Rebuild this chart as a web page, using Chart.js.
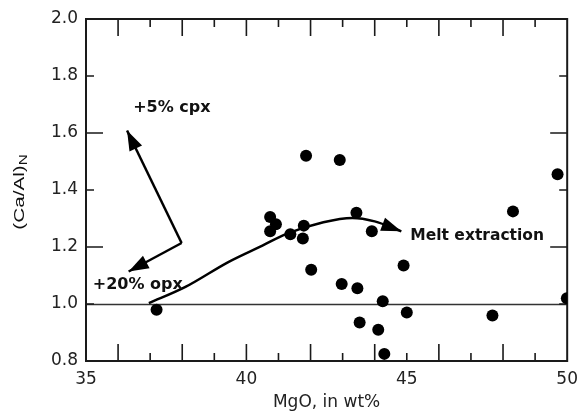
<!DOCTYPE html>
<html>
<head>
<meta charset="utf-8">
<script src="https://cdn.jsdelivr.net/npm/chart.js@4/dist/chart.umd.min.js"></script>
<style>
  html, body { margin: 0; padding: 0; background: #fff; }
  #wrap { width: 586px; height: 413px; }
</style>
</head>
<body>
<div id="wrap"><canvas id="mgoChart"></canvas></div>
<script>
// bulk-rock samples: MgO (wt%) vs normalised Ca/Al
var mgo  = [37.20, 40.74, 40.92, 40.74, 41.37, 41.79, 41.76, 41.86, 42.91, 42.02, 43.43, 42.97,
            43.46, 43.53, 43.91, 44.90, 44.25, 45.00, 44.11, 44.30, 47.67, 48.31, 49.70, 49.99];
var caAl = [0.98, 1.305, 1.28, 1.255, 1.245, 1.275, 1.23, 1.52, 1.505, 1.12, 1.32, 1.07,
            1.055, 0.935, 1.255, 1.135, 1.01, 0.97, 0.91, 0.825, 0.96, 1.325, 1.455, 1.02];

// melt extraction trend
var meltX = [36.96, 38.1, 39.45, 40.5, 41.25, 42.4, 43.3, 44.0, 44.83];
var meltY = [1.003, 1.06, 1.148, 1.205, 1.246, 1.287, 1.302, 1.29, 1.255];

// addition vectors (from pivot to tip)
var cpxX = [37.98, 36.28];
var cpxY = [1.214, 1.609];
var opxX = [37.98, 36.33];
var opxY = [1.214, 1.114];

// text notes
var noteText = ['+5% cpx', '+20% opx', 'Melt extraction'];
var noteX = [36.47, 35.21, 45.11];
var noteY = [1.689, 1.068, 1.240];

var xTicks = [35, 40, 45, 50];
var yTicks = [0.8, 1.0, 1.2, 1.4, 1.6, 1.8, 2.0];
var refLine = 1.0;

function pts(xs, ys) {
  return xs.map(function(x, i) { return {x: x, y: ys[i]}; });
}

var INK = '#111';

var framePlugin = {
  id: 'frame',
  beforeDatasetsDraw: function(chart) {
    var ctx = chart.ctx, a = chart.chartArea;
    var xs = chart.scales.x, ys = chart.scales.y;
    ctx.save();
    // reference line
    ctx.strokeStyle = '#333';
    ctx.lineWidth = 1.3;
    var yr = Math.round(ys.getPixelForValue(refLine)) + 0.5;
    ctx.beginPath(); ctx.moveTo(a.left, yr); ctx.lineTo(a.right, yr); ctx.stroke();

    // inward ticks
    ctx.strokeStyle = '#1a1a1a';
    ctx.lineWidth = 1.6;
    ctx.beginPath();
    for (var v = 36; v <= 49; v++) {
      var px = xs.getPixelForValue(v);
      var len = (v % 2 === 0) ? 17 : 8;
      ctx.moveTo(px, a.bottom); ctx.lineTo(px, a.bottom - len);
      ctx.moveTo(px, a.top); ctx.lineTo(px, a.top + len);
    }
    for (var k = 1; k <= 5; k++) {
      var val = 0.8 + k * 0.2;
      var py = ys.getPixelForValue(val);
      var l2 = (k % 2 === 0) ? 17 : 8;
      ctx.moveTo(a.left, py); ctx.lineTo(a.left + l2, py);
      ctx.moveTo(a.right, py); ctx.lineTo(a.right - l2, py);
    }
    ctx.stroke();

    // frame
    ctx.lineWidth = 2;
    ctx.strokeRect(a.left, a.top, a.right - a.left, a.bottom - a.top);
    ctx.restore();
  },
  afterDatasetsDraw: function(chart) {
    var ctx = chart.ctx, a = chart.chartArea;
    var xs = chart.scales.x, ys = chart.scales.y;
    ctx.save();

    // arrow heads on the line datasets
    chart.data.datasets.forEach(function(ds, i) {
      if (!ds.arrow) return;
      var pts = chart.getDatasetMeta(i).data;
      var p1 = pts[pts.length - 2], p2 = pts[pts.length - 1];
      var ang = Math.atan2(p2.y - p1.y, p2.x - p1.x);
      var L = 20, W = 7;
      ctx.fillStyle = '#000';
      ctx.beginPath();
      ctx.moveTo(p2.x, p2.y);
      ctx.lineTo(p2.x - L * Math.cos(ang) + W * Math.sin(ang), p2.y - L * Math.sin(ang) - W * Math.cos(ang));
      ctx.lineTo(p2.x - L * Math.cos(ang) - W * Math.sin(ang), p2.y - L * Math.sin(ang) + W * Math.cos(ang));
      ctx.closePath();
      ctx.fill();
    });

    // notes
    ctx.fillStyle = INK;
    ctx.textBaseline = 'middle';
    ctx.textAlign = 'left';
    noteText.forEach(function(t, i) {
      ctx.font = (i === 2 ? 'bold 15.5px' : 'bold 16px') + ' "DejaVu Sans"';
      ctx.fillText(t, xs.getPixelForValue(noteX[i]), ys.getPixelForValue(noteY[i]));
    });

    // y-axis title with subscript
    ctx.translate(a.left - 62, (a.top + a.bottom) / 2 + 2);
    ctx.rotate(-Math.PI / 2);
    ctx.scale(1.38, 1);
    ctx.textBaseline = 'alphabetic';
    ctx.font = '15px "Liberation Sans"';
    var main = '(Ca/Al)';
    var w1 = ctx.measureText(main).width;
    ctx.font = '11px "Liberation Sans"';
    var w2 = ctx.measureText('N').width;
    var s = -(w1 + w2) / 2;
    ctx.font = '15px "Liberation Sans"';
    ctx.fillText(main, s, 0);
    ctx.font = '11px "Liberation Sans"';
    ctx.fillText('N', s + w1, 3);
    ctx.restore();
  }
};

var tickFont = { family: 'DejaVu Sans', size: 17 };

new Chart(document.getElementById('mgoChart'), {
  type: 'scatter',
  data: {
    datasets: [
      {
        data: pts(meltX, meltY),
        showLine: true,
        cubicInterpolationMode: 'monotone',
        borderColor: '#000',
        borderWidth: 2.5,
        pointRadius: 0,
        arrow: true
      },
      {
        data: pts(cpxX, cpxY),
        showLine: true,
        borderColor: '#000',
        borderWidth: 2.5,
        pointRadius: 0,
        arrow: true
      },
      {
        data: pts(opxX, opxY),
        showLine: true,
        borderColor: '#000',
        borderWidth: 2.5,
        pointRadius: 0,
        arrow: true
      },
      {
        data: pts(mgo, caAl),
        backgroundColor: '#000',
        borderWidth: 0,
        pointRadius: 6
      }
    ]
  },
  options: {
    responsive: true,
    maintainAspectRatio: false,
    animation: false,
    layout: { padding: { left: 0, right: 10, top: 19, bottom: 0 } },
    plugins: { legend: { display: false }, tooltip: { enabled: false } },
    scales: {
      x: {
        type: 'linear',
        min: 35, max: 50,
        afterFit: function(scale) { scale.height = 52; },
        afterBuildTicks: function(scale) { scale.ticks = xTicks.map(function(v) { return {value: v}; }); },
        grid: { display: false, drawTicks: false },
        border: { display: false },
        ticks: { font: tickFont, color: '#222', padding: 8, maxRotation: 0 },
        title: {
          display: true,
          text: 'MgO, in wt%',
          font: { family: 'DejaVu Sans', size: 17 },
          color: '#222',
          padding: { top: 0, bottom: 0 }
        }
      },
      y: {
        type: 'linear',
        min: 0.8, max: 2.0,
        afterFit: function(scale) { scale.width = 86; },
        afterBuildTicks: function(scale) { scale.ticks = yTicks.map(function(v) { return {value: v}; }); },
        grid: { display: false, drawTicks: false },
        border: { display: false },
        ticks: {
          font: tickFont, color: '#222', padding: 8,
          callback: function(v) { return Number(v).toFixed(1); }
        }
      }
    }
  },
  plugins: [framePlugin]
});
</script>
</body>
</html>
